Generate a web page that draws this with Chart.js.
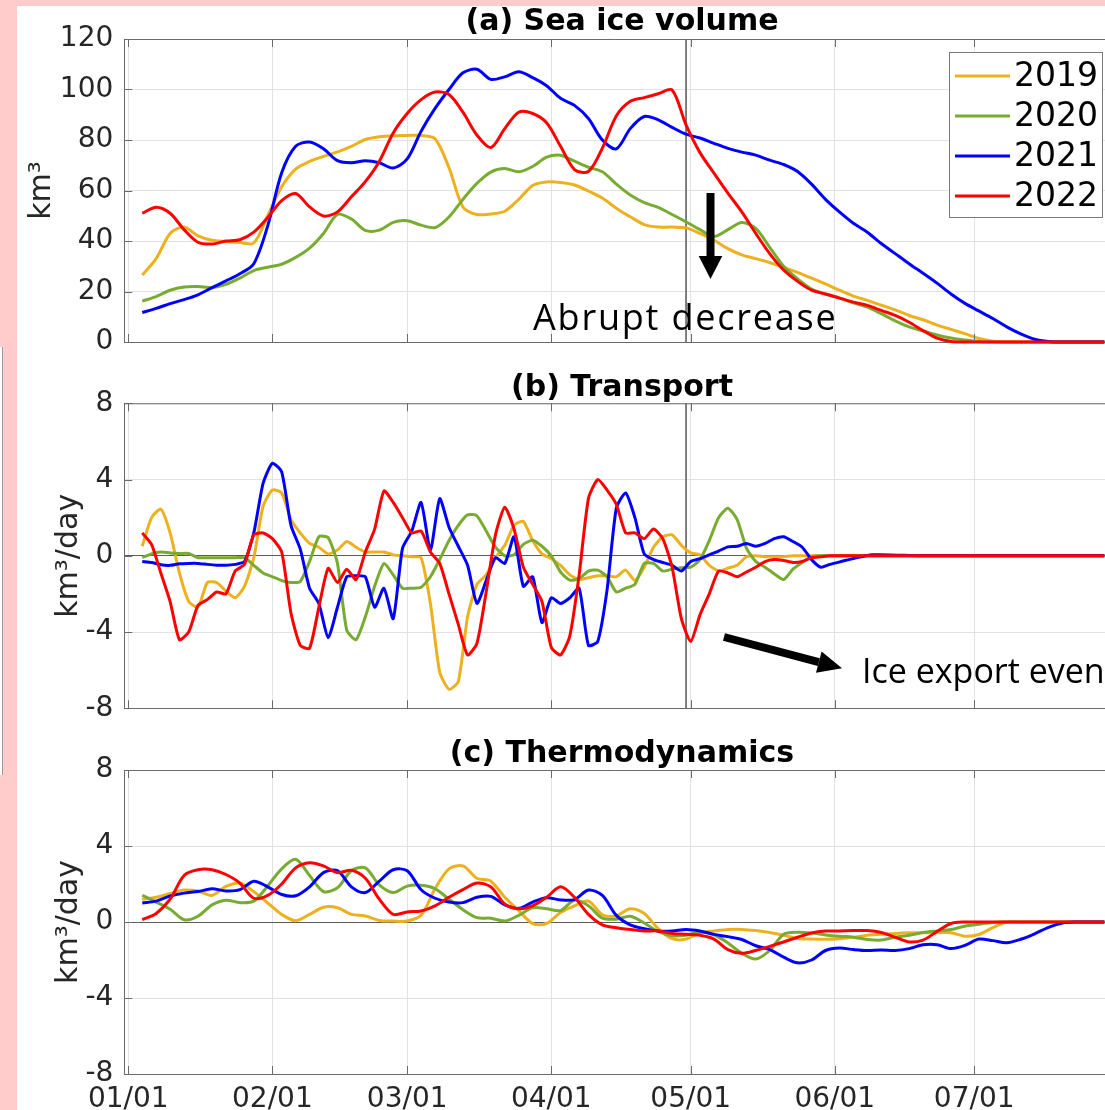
<!DOCTYPE html>
<html>
<head>
<meta charset="utf-8">
<script src="https://cdn.jsdelivr.net/npm/chart.js@4.4.1/dist/chart.umd.min.js"></script>
<style>
  html, body { margin: 0; padding: 0; }
  body { width: 1105px; height: 1110px; background: #ffcbcb; position: relative; overflow: hidden; }
  #paper { position: absolute; left: 17px; top: 6px; right: 0; bottom: 0; background: #fff; }
  #stub { position: absolute; left: 0; top: 347px; width: 2px; height: 428px; background: #fff; border-right: 1px solid #999; }
  canvas { position: absolute; left: 0; }
</style>
</head>
<body>
<div id="paper"></div>
<div id="stub"></div>
<canvas id="volume" width="1105" height="360" style="top:0"></canvas>
<canvas id="transport" width="1105" height="370" style="top:360px"></canvas>
<canvas id="thermo" width="1105" height="380" style="top:730px"></canvas>
<script>
const years = ['2019', '2020', '2021', '2022'];
const colors = ['#EDB120', '#77AC30', '#0000FF', '#FF0000'];

// day of year (leap-year calendar) for the month ticks
const tickDays = [0, 31, 60, 91, 121, 152, 182];
const tickLabels = ['01/01', '02/01', '03/01', '04/01', '05/01', '06/01', '07/01'];
const exportDay = 120;

const days3 = [3, 6, 9, 12, 15, 18, 21, 24, 27, 30, 33, 36, 39, 42, 45, 48, 51, 54, 57, 60,
  63, 66, 69, 72, 75, 78, 81, 84, 87, 90, 93, 96, 99, 102, 105, 108, 111, 114, 117, 120,
  123, 126, 129, 132, 135, 138, 141, 144, 147, 150, 153, 156, 159, 162, 165, 168, 171, 174, 177, 180,
  183, 186, 189, 192, 195, 198, 201, 204, 207, 210];

const daysB = [3, 5, 7, 9, 11, 13, 15, 17, 19, 21, 23, 25, 27, 29, 31, 33, 35, 37, 39, 41,
  43, 45, 47, 49, 51, 53, 55, 57, 59, 61, 63, 65, 67, 69, 71, 73, 75, 77, 79, 81,
  83, 85, 87, 89, 91, 93, 95, 97, 99, 101, 103, 105, 107, 109, 111, 113, 115, 117, 119, 121,
  123, 125, 127, 129, 131, 133, 135, 137, 139, 141, 143, 145, 147, 149, 151,
  160, 170, 180, 190, 200, 210];

// (a) sea ice volume, km3
const volume2019 = [26.5, 33, 43, 45.5, 42, 40.3, 39.8, 39.4, 39.2, 50,
  61.5, 68.5, 71.5, 73.5, 75.3, 77.5, 80.2, 81.3, 81.7, 81.8,
  81.8, 80.5, 69, 53.5, 50.5, 50.7, 51.8, 56.5, 62, 63.4,
  63.2, 62.2, 59.8, 57, 53, 49.6, 46.5, 45.5, 45.5, 45.2,
  43, 40.3, 37, 34.5, 33, 31.5, 29.6, 27.6, 25.3, 23,
  20.5, 18.2, 16.5, 14.6, 12.7, 10.5, 8.8, 6.7, 5, 3.3,
  1.4, 0.3, 0, 0, 0, 0, 0, 0, 0, 0];
const volume2020 = [16.2, 18, 20.5, 21.8, 22, 21.5, 22.8, 25.3, 28.3, 29.6,
  30.8, 33.5, 37.2, 43, 50.5, 48.7, 44.2, 44.3, 47.4, 48,
  46.3, 45.3, 49.5, 56.5, 62.8, 67.3, 68.7, 67.4, 69.5, 73.2,
  74, 71.6, 69.2, 67.4, 62.5, 58.2, 55.2, 53.3, 50.5, 47.6,
  44.5, 41.8, 44.5, 47.3, 45, 37.5, 30, 25, 21, 19,
  17.5, 15.5, 13.8, 11.2, 8.4, 6, 4.4, 2.8, 1.6, 0.8,
  0.2, 0, 0, 0, 0, 0, 0, 0, 0, 0];
const volume2021 = [11.7, 13.3, 15.2, 16.8, 18.7, 21.5, 24.2, 27, 31, 46,
  67, 77.5, 79.2, 76.5, 71.8, 71, 71.8, 71, 68.9, 72.5,
  83.5, 92.5, 100, 106.6, 108, 104, 105, 107, 104.7, 101.5,
  96.5, 93.7, 88.5, 80, 76.5, 84.5, 89.3, 88, 85, 82.3,
  80.8, 78.7, 76.7, 75.2, 74, 72, 70.3, 67.5, 62.5, 56.5,
  51.5, 47, 43.5, 39, 35, 31, 27.2, 23.3, 19, 15.3,
  12.3, 9.3, 6, 3.2, 1.1, 0.2, 0, 0, 0, 0];
const volume2022 = [51, 53.4, 51, 44.5, 39.5, 38.8, 40, 40.5, 43.5, 49.3,
  56, 58.8, 53.5, 49.9, 51.5, 57.5, 63.5, 71.5, 82.8, 90.5,
  96, 99, 98, 91, 82, 77, 84.5, 91, 90.5, 86.8,
  77.5, 68.3, 67.5, 76.8, 89.5, 95.3, 96.8, 98.3, 99.8, 86,
  75, 66.9, 59, 51.5, 43, 35, 28.5, 24, 20.5, 19,
  17.4, 15.8, 14.5, 12.5, 10.5, 7.8, 4.5, 1.5, 0.2, 0,
  0, 0, 0, 0, 0, 0, 0, 0, 0, 0];

// (b) transport, km3/day
const transport2019 = [0.5, 2.0, 2.45, 1.2, -0.9, -2.4, -2.7, -1.4, -1.4, -1.85,
  -2.2, -1.6, -0.1, 2.6, 3.45, 3.3, 1.9, 1.2, 0.65, 0.45,
  0.1, 0.3, 0.75, 0.45, 0.2, 0.2, 0.2, 0.05, 0, -0.05,
  -0.1, -2.5, -6.1, -7.0, -6.6, -3.2, -1.5, -1.0, -0.1, 0.55,
  1.6, 1.8, 0.8, 0.1, -0.15, -0.5, -1.0, -1.25, -1.15, -1.05,
  -1.05, -1.1, -0.75, -1.3, -0.6, 0.45, 1.0, 1.1, 0.55, 0.15,
  0.05, -0.5, -0.8, -0.65, -0.5, -0.05, 0, -0.05, -0.05, -0.05,
  0, 0, 0, 0, 0,
  0, 0, 0, 0, 0, 0];
const transport2020 = [-0.1, 0.1, 0.2, 0.15, 0.12, 0.12, -0.1, -0.1, -0.1, -0.1,
  -0.1, -0.1, -0.5, -0.9, -1.1, -1.3, -1.4, -1.35, -0.3, 1.0,
  0.95, -0.4, -3.9, -4.4, -3.2, -1.6, -0.4, -1.0, -1.7, -1.7,
  -1.65, -1.1, -0.2, 0.8, 1.6, 2.15, 2.1, 1.3, 0.45, 0.0,
  0.05, 0.6, 0.82, 0.5, 0.0, -0.85, -1.28, -1.2, -0.8, -0.75,
  -1.1, -1.9, -1.7, -1.5, -0.4, -0.4, -0.8, -0.7, -0.63, -0.6,
  -0.2, 0.8, 2.0, 2.5, 1.9, 0.4, -0.3, -0.6, -0.95, -1.25,
  -0.7, -0.35, -0.05, 0, 0,
  0, 0, 0, 0, 0, 0];
const transport2021 = [-0.3, -0.35, -0.47, -0.5, -0.42, -0.4, -0.4, -0.45, -0.49, -0.5,
  -0.45, -0.3, 1.2, 3.8, 4.85, 4.4, 1.6, 0.35, -1.7, -2.5,
  -4.3, -2.7, -1.1, -1.05, -1.1, -2.7, -1.7, -3.3, 0.4, 1.3,
  2.8, 0.3, 3.0, 1.5, 0.5, -0.5, -2.5, -1.3, -0.1, -0.4,
  1.0, -1.6, -1.1, -3.5, -2.2, -2.5, -2.2, -1.7, -4.7, -4.5,
  -1.8, 2.5, 3.3, 2.0, 0.1, -0.2, -0.35, -0.5, -0.8, -0.3,
  -0.15, 0.05, 0.25, 0.47, 0.5, 0.65, 0.5, 0.65, 0.9, 1.0,
  0.75, 0.45, -0.2, -0.6, -0.45,
  0.05, 0, 0, 0, 0, 0];
const transport2022 = [1.2, 0.6, -0.9, -2.4, -4.4, -4.0, -2.6, -2.3, -1.9, -2.0,
  -0.8, -0.45, 1.1, 1.2, 0.9, 0.2, -3.0, -4.7, -4.85, -2.7,
  -0.66, -1.4, -0.7, -1.25, 0.2, 1.4, 3.4, 2.8, 2.0, 1.2,
  1.3, 0.2, -0.4, -2.0, -3.6, -5.2, -4.6, -1.9, 1.1, 2.55,
  1.4, -0.6, -1.5, -2.4, -4.8, -5.2, -4.2, -1.0, 3.0, 4.0,
  3.45, 2.7, 1.2, 1.2, 0.9, 1.4, 0.9, -0.6, -3.3, -4.5,
  -3.1, -2.0, -0.8, -0.9, -1.1, -0.85, -0.6, -0.3, -0.2, -0.25,
  -0.35, -0.3, -0.1, -0.05, 0,
  0, 0, 0, 0, 0, 0];

// (c) thermodynamics, km3/day
const thermo2019 = [1.19, 1.3, 1.5, 1.68, 1.63, 1.4, 1.87, 2.05, 1.6, 1.0,
  0.4, 0.07, 0.4, 0.78, 0.75, 0.4, 0.32, 0.08, 0.05, 0.05,
  0.35, 1.75, 2.8, 2.95, 2.3, 2.15, 1.3, 0.6, -0.08, -0.08,
  0.5, 0.85, 1.1, 0.38, 0.32, 0.7, 0.45, -0.35, -0.88, -0.9,
  -0.56, -0.47, -0.4, -0.39, -0.45, -0.55, -0.7, -0.87, -0.9, -0.91,
  -0.88, -0.8, -0.7, -0.65, -0.6, -0.57, -0.56, -0.56, -0.56, -0.75,
  -0.66, -0.3, 0, 0, 0, 0, 0, 0, 0, 0];
const thermo2020 = [1.4, 1.05, 0.67, 0.12, 0.3, 0.9, 1.15, 1.02, 1.1, 1.9,
  2.8, 3.3, 2.45, 1.6, 1.8, 2.7, 2.85, 1.95, 1.55, 1.89,
  1.93, 1.75, 1.2, 0.65, 0.23, 0.2, 0.05, 0.35, 0.75, 0.7,
  0.6, 1.15, 0.85, 0.2, 0.15, 0.3, -0.05, -0.5, -0.73, -0.7,
  -0.53, -0.67, -1.1, -1.65, -1.95, -1.5, -0.65, -0.54, -0.58, -0.68,
  -0.75, -0.8, -0.92, -0.95, -0.8, -0.7, -0.55, -0.47, -0.4, -0.22,
  -0.12, -0.02, 0, 0, 0, 0, 0, 0, 0, 0];
const thermo2021 = [1.0, 1.1, 1.37, 1.52, 1.6, 1.75, 1.63, 1.7, 2.15, 1.85,
  1.45, 1.38, 1.85, 2.6, 2.7, 1.85, 1.55, 2.15, 2.75, 2.7,
  1.7, 1.25, 1.05, 1.02, 1.3, 1.35, 0.9, 0.72, 1.05, 1.28,
  1.16, 1.18, 1.68, 1.4, 0.35, -0.15, -0.35, -0.47, -0.47, -0.39,
  -0.47, -0.65, -0.77, -0.92, -1.25, -1.45, -1.85, -2.15, -2.0, -1.5,
  -1.37, -1.45, -1.5, -1.47, -1.5, -1.4, -1.2, -1.2, -1.4, -1.23,
  -0.9, -0.98, -1.09, -0.91, -0.62, -0.28, -0.05, 0, 0, 0];
const thermo2022 = [0.12, 0.45, 1.2, 2.45, 2.75, 2.75, 2.5, 2.05, 1.25, 1.4,
  2.0, 2.85, 3.12, 2.95, 2.6, 2.72, 2.3, 1.2, 0.4, 0.53,
  0.58, 0.85, 1.3, 1.7, 2.05, 1.85, 0.95, 0.7, 0.85, 1.3,
  1.85, 1.3, 0.4, -0.15, -0.3, -0.4, -0.47, -0.47, -0.6, -0.65,
  -0.7, -0.9, -1.45, -1.65, -1.5, -1.28, -1.05, -0.8, -0.58, -0.48,
  -0.47, -0.45, -0.45, -0.55, -0.8, -1.05, -0.95, -0.5, -0.08, 0,
  0, 0, 0, 0, 0, 0, 0, 0, 0, 0];

Chart.defaults.font.family = "'DejaVu Sans', sans-serif";
Chart.defaults.color = '#262626';
Chart.defaults.animation = false;

const axisGrey = '#6a6a6a';
const gridGrey = '#e2e2e2';

function drawArrow(ctx, x0, y0, x1, y1, shaft, headLen, headHalf) {
  const ang = Math.atan2(y1 - y0, x1 - x0);
  const bx = x1 - headLen * Math.cos(ang);
  const by = y1 - headLen * Math.sin(ang);
  ctx.save();
  ctx.strokeStyle = '#000';
  ctx.fillStyle = '#000';
  ctx.lineWidth = shaft;
  ctx.beginPath();
  ctx.moveTo(x0, y0);
  ctx.lineTo(bx, by);
  ctx.stroke();
  ctx.beginPath();
  ctx.moveTo(x1, y1);
  ctx.lineTo(bx + headHalf * Math.sin(ang), by - headHalf * Math.cos(ang));
  ctx.lineTo(bx - headHalf * Math.sin(ang), by + headHalf * Math.cos(ang));
  ctx.closePath();
  ctx.fill();
  ctx.restore();
}

function decor(cfg) {
  return {
    id: 'decor',
    beforeDatasetsDraw(chart) {
      if (!cfg.eventLine) return;
      const { ctx, chartArea: a, scales: { x } } = chart;
      const px = x.getPixelForValue(exportDay);
      ctx.save();
      ctx.strokeStyle = '#606060';
      ctx.lineWidth = 1.6;
      ctx.beginPath();
      ctx.moveTo(px, a.top);
      ctx.lineTo(px, a.bottom);
      ctx.stroke();
      ctx.restore();
    },
    afterDatasetsDraw(chart) {
      const { ctx, chartArea: a, scales: { x, y } } = chart;
      ctx.save();
      ctx.strokeStyle = axisGrey;
      ctx.lineWidth = 1;
      ctx.beginPath();
      ctx.moveTo(a.left, a.top + 0.5);
      ctx.lineTo(a.right, a.top + 0.5);
      x.ticks.forEach(t => {
        const px = Math.round(x.getPixelForValue(t.value)) + 0.5;
        ctx.moveTo(px, a.bottom);
        ctx.lineTo(px, a.bottom - 8);
        ctx.moveTo(px, a.top);
        ctx.lineTo(px, a.top + 8);
      });
      y.ticks.forEach(t => {
        const py = Math.round(y.getPixelForValue(t.value)) + 0.5;
        ctx.moveTo(a.left, py);
        ctx.lineTo(a.left + 8, py);
      });
      ctx.stroke();

      ctx.fillStyle = '#000';
      ctx.font = "bold 30px 'DejaVu Sans'";
      ctx.textAlign = 'center';
      ctx.textBaseline = 'alphabetic';
      ctx.fillText(cfg.title, 622, cfg.titleBase);

      if (cfg.note) {
        const n = cfg.note;
        ctx.font = n.size + "px 'Open Sans'";
        ctx.letterSpacing = n.spacing + 'px';
        ctx.textAlign = 'left';
        ctx.fillText(n.text, n.x, n.y);
        ctx.letterSpacing = '0px';
      }
      if (cfg.arrow) {
        const r = cfg.arrow;
        drawArrow(ctx, r[0], r[1], r[2], r[3], 8, r[4], r[5]);
      }
      if (cfg.legend) {
        ctx.fillStyle = '#fff';
        ctx.fillRect(949.5, 52.5, 153, 165);
        ctx.strokeStyle = '#7a7a7a';
        ctx.strokeRect(949.5, 52.5, 153, 165);
        ctx.font = "33px 'DejaVu Sans'";
        ctx.textAlign = 'left';
        ctx.textBaseline = 'middle';
        chart.data.datasets.forEach((ds, i) => {
          const ly = 76 + 40 * i;
          ctx.strokeStyle = ds.borderColor;
          ctx.lineWidth = 3;
          ctx.beginPath();
          ctx.moveTo(955, ly);
          ctx.lineTo(1010, ly);
          ctx.stroke();
          ctx.fillStyle = '#000';
          ctx.fillText(ds.label, 1014, ly + 1);
        });
      }
      ctx.restore();
    }
  };
}

function makePanel(id, cfg) {
  const datasets = years.map((yr, i) => ({
    label: yr,
    data: cfg.days.map((d, j) => ({ x: d, y: cfg.series[i][j] })),
    borderColor: colors[i],
    backgroundColor: colors[i],
    borderWidth: 3,
    pointRadius: 0,
    tension: cfg.tension,
    clip: 4,
    order: years.length - i
  }));
  return new Chart(document.getElementById(id), {
    type: 'line',
    data: { datasets },
    plugins: [decor(cfg)],
    options: {
      responsive: false,
      devicePixelRatio: 1,
      layout: { padding: { top: cfg.padTop, left: 0, right: 0, bottom: 0 } },
      plugins: { legend: { display: false }, tooltip: { enabled: false } },
      scales: {
        x: {
          type: 'linear',
          min: -0.86,
          max: 210.14,
          afterBuildTicks: s => { s.ticks = tickDays.map(v => ({ value: v })); },
          afterFit: s => { s.height = cfg.xHeight; s.paddingLeft = 0; s.paddingRight = 0; },
          grid: { color: gridGrey, drawTicks: false },
          border: { color: axisGrey, width: 1 },
          ticks: {
            display: cfg.showX,
            autoSkip: false,
            maxRotation: 0,
            padding: 9,
            font: { size: 28 },
            callback: (v, i) => tickLabels[i]
          }
        },
        y: {
          min: cfg.yMin,
          max: cfg.yMax,
          afterFit: s => { s.width = 124.3; s.paddingTop = 0; s.paddingBottom = 0; },
          grid: {
            color: c => (cfg.zeroLine && c.tick && c.tick.value === 0) ? '#5c5c5c' : gridGrey,
            drawTicks: false
          },
          border: { color: axisGrey, width: 1 },
          ticks: { stepSize: cfg.yStep, padding: 11, font: { size: 28 } },
          title: {
            display: true,
            text: cfg.yTitle,
            font: { size: 30 },
            color: '#262626',
            padding: { top: cfg.yTitlePad, bottom: 0 }
          }
        }
      }
    }
  });
}

makePanel('volume', {
  days: days3,
  series: [volume2019, volume2020, volume2021, volume2022],
  tension: 0.3,
  padTop: 39, xHeight: 18, showX: false,
  yMin: 0, yMax: 120, yStep: 20, zeroLine: false,
  yTitle: 'km³', yTitlePad: 24,
  title: '(a) Sea ice volume', titleBase: 30,
  eventLine: true, legend: true,
  note: { text: 'Abrupt decrease', x: 533, y: 330, size: 36, spacing: 1.8 },
  arrow: [710.5, 193, 710.5, 279, 23, 11.8]
});

makePanel('transport', {
  days: daysB,
  series: [transport2019, transport2020, transport2021, transport2022],
  tension: 0.2,
  padTop: 43.3, xHeight: 21.7, showX: false,
  yMin: -8, yMax: 8, yStep: 4, zeroLine: true,
  yTitle: 'km³/day', yTitlePad: 51,
  title: '(b) Transport', titleBase: 36,
  eventLine: true, legend: false,
  note: { text: 'Ice export event', x: 862, y: 323, size: 34, spacing: 0 },
  arrow: [724, 277, 842, 308.3, 24, 11]
});

makePanel('thermo', {
  days: days3,
  series: [thermo2019, thermo2020, thermo2021, thermo2022],
  tension: 0.3,
  padTop: 40, xHeight: 36, showX: true,
  yMin: -8, yMax: 8, yStep: 4, zeroLine: true,
  yTitle: 'km³/day', yTitlePad: 51,
  title: '(c) Thermodynamics', titleBase: 31.7,
  eventLine: false, legend: false
});
</script>
</body>
</html>
